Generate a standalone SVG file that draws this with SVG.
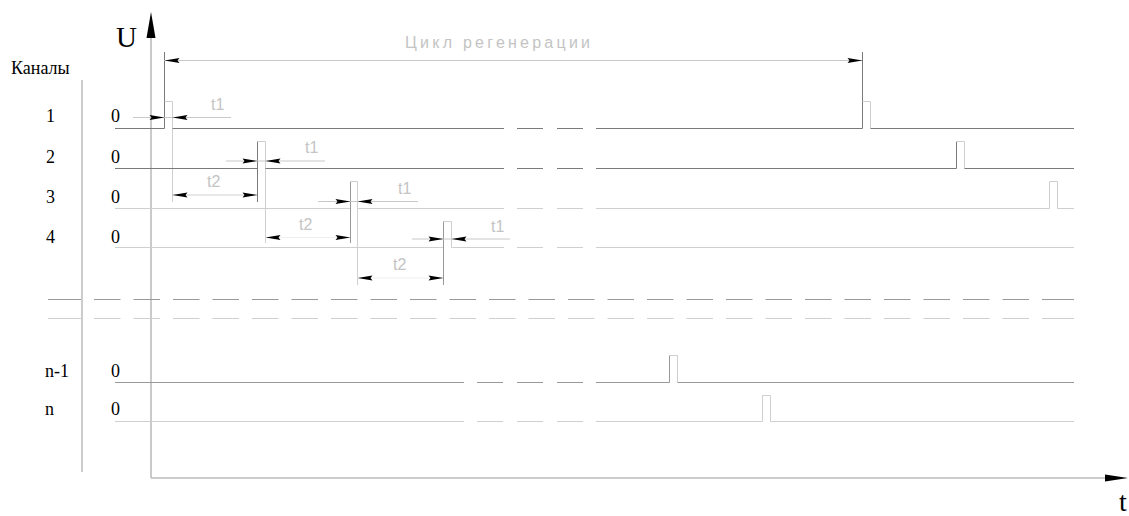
<svg xmlns="http://www.w3.org/2000/svg" width="1129" height="516" viewBox="0 0 1129 516">
<style>
.lbl{font-family:"Liberation Serif","Times New Roman",serif;fill:#000}
.dim{font-family:"Liberation Sans",Arial,sans-serif;fill:#c4c4c4;font-size:16px}
.dk{stroke:#7a7a7a;stroke-width:1;fill:none}
.md{stroke:#999;stroke-width:1;fill:none}
.lt{stroke:#cfcfcf;stroke-width:1;fill:none}
.dl{stroke:#c8c8c8;stroke-width:1;fill:none}
.ax{stroke:#bdbdbd;stroke-width:1.6;fill:none}
</style>
<defs>
<path id="ah" d="M0,0 L-15,-2.6 L-13,0 L-15,2.6 Z" fill="#000"/>
</defs>
<rect width="1129" height="516" fill="#fff"/>

<g id="axes">
<line class="ax" x1="151" y1="478" x2="151" y2="36"/>
<path d="M151,12 L146.5,38 L155.5,38 Z" fill="#000"/>
<line class="ax" x1="151" y1="478" x2="1106" y2="478"/>
<path d="M1128,478 L1105,474.5 L1105,481.5 Z" fill="#000"/>
<text class="lbl" x="116" y="47" font-size="29">U</text>
<text class="lbl" x="1119" y="511" font-size="28">t</text>
<line class="md" x1="82" y1="80" x2="82" y2="472"/>
</g>

<g id="labels">
<text class="lbl" x="11" y="74" font-size="18">Каналы</text>
<text class="lbl" x="46" y="122" font-size="18">1</text>
<text class="lbl" x="46" y="163" font-size="18">2</text>
<text class="lbl" x="46" y="203" font-size="18">3</text>
<text class="lbl" x="46" y="243" font-size="18">4</text>
<text class="lbl" x="45" y="377" font-size="18">n-1</text>
<text class="lbl" x="45" y="415" font-size="18">n</text>
<text class="lbl" x="111" y="122" font-size="18">0</text>
<text class="lbl" x="111" y="163" font-size="18">0</text>
<text class="lbl" x="111" y="203" font-size="18">0</text>
<text class="lbl" x="111" y="243" font-size="18">0</text>
<text class="lbl" x="111" y="377" font-size="18">0</text>
<text class="lbl" x="111" y="415" font-size="18">0</text>
</g>

<g id="ch1">
<path class="dk" d="M115,128.5 H164.5 V52"/>
<path class="lt" d="M164.5,101.5 H172.5 V202"/>
<path class="dk" d="M172.5,128.5 H504 M517,128.5 H543 M557,128.5 H583 M596,128.5 H862.5 V52"/>
<path class="lt" d="M862.5,101.5 H870.5 V128.5"/>
<path class="dk" d="M870.5,128.5 H1074"/>
</g>

<g id="ch2">
<path class="dk" d="M115,168.5 H257.5"/>
<path class="dk" d="M257.5,141.5 V202"/>
<path class="lt" d="M257.5,141.5 H265.5 V243"/>
<path class="dk" d="M265.5,168.5 H504 M517,168.5 H543 M557,168.5 H583 M596,168.5 H956.5 V141.5"/>
<path class="lt" d="M956.5,141.5 H964.5 V168.5"/>
<path class="dk" d="M964.5,168.5 H1074"/>
</g>

<g id="ch3">
<path class="lt" d="M115,208.5 H350.5"/>
<path class="md" d="M350.5,181.5 V243"/>
<path class="lt" d="M350.5,181.5 H357.5 V285"/>
<path class="lt" d="M357.5,208.5 H504 M517,208.5 H543 M557,208.5 H583 M596,208.5 H1049.5 V181.5 H1057.5 V208.5 H1074"/>
</g>

<g id="ch4">
<path class="lt" d="M115,247.5 H443.5"/>
<path class="md" d="M443.5,221.5 V285"/>
<path class="lt" d="M443.5,221.5 H451.5 V247.5 H504 M517,247.5 H543 M557,247.5 H583 M596,247.5 H1074"/>
</g>

<g id="separator">
<path class="md" d="M48,299.5 H81 M94,299.5 H120.5 M133.5,299.5 H160 M173,299.5 H199.5 M212.5,299.5 H239 M252,299.5 H278.5 M291.5,299.5 H318 M331,299.5 H357.5 M370.5,299.5 H397 M410,299.5 H436.5 M449.5,299.5 H476 M489,299.5 H515.5 M528.5,299.5 H555 M568,299.5 H594.5 M607.5,299.5 H634 M647,299.5 H673.5 M686.5,299.5 H713 M726,299.5 H752.5 M765.5,299.5 H792 M805,299.5 H831.5 M844.5,299.5 H871 M884,299.5 H910.5 M923.5,299.5 H950 M963,299.5 H989.5 M1002.5,299.5 H1029 M1042,299.5 H1074"/>
<path class="lt" d="M48,318.5 H81 M94,318.5 H120.5 M133.5,318.5 H160 M173,318.5 H199.5 M212.5,318.5 H239 M252,318.5 H278.5 M291.5,318.5 H318 M331,318.5 H357.5 M370.5,318.5 H397 M410,318.5 H436.5 M449.5,318.5 H476 M489,318.5 H515.5 M528.5,318.5 H555 M568,318.5 H594.5 M607.5,318.5 H634 M647,318.5 H673.5 M686.5,318.5 H713 M726,318.5 H752.5 M765.5,318.5 H792 M805,318.5 H831.5 M844.5,318.5 H871 M884,318.5 H910.5 M923.5,318.5 H950 M963,318.5 H989.5 M1002.5,318.5 H1029 M1042,318.5 H1074"/>
</g>

<g id="chn1">
<path class="md" d="M115,382.5 H464 M477,382.5 H503 M517,382.5 H543 M557,382.5 H583 M596,382.5 H669.5 V355.5"/>
<path class="lt" d="M669.5,355.5 H677.5 V382.5"/>
<path class="md" d="M677.5,382.5 H1074"/>
</g>

<g id="chn">
<path class="lt" d="M115,421.5 H464 M477,421.5 H503 M517,421.5 H543 M557,421.5 H583 M596,421.5 H762.5 V395.5 H770.5 V421.5 H1074"/>
</g>

<g id="connectors">
<line class="dl" x1="164" y1="60.5" x2="862" y2="60.5"/>
<use href="#ah" transform="translate(164.5,60.5) scale(-1,1)"/>
<use href="#ah" transform="translate(862.5,60.5)"/>
<text class="dim" x="405" y="48" font-size="17" textLength="185" lengthAdjust="spacing">Цикл регенерации</text>

<line class="dl" x1="133" y1="117.5" x2="231" y2="117.5"/>
<use href="#ah" transform="translate(164.5,117.5)"/>
<use href="#ah" transform="translate(172.5,117.5) scale(-1,1)"/>
<text class="dim" x="211" y="110">t1</text>

<line class="dl" x1="226" y1="161" x2="325" y2="161"/>
<use href="#ah" transform="translate(257.5,161)"/>
<use href="#ah" transform="translate(265.5,161) scale(-1,1)"/>
<text class="dim" x="305" y="153">t1</text>

<line class="lt" x1="172" y1="195" x2="257" y2="195" stroke="#eee"/>
<use href="#ah" transform="translate(172.5,195) scale(-1,1)"/>
<use href="#ah" transform="translate(257.5,195)"/>
<text class="dim" x="207" y="187">t2</text>

<line class="dl" x1="318" y1="201.5" x2="418" y2="201.5"/>
<use href="#ah" transform="translate(350.5,201.5)"/>
<use href="#ah" transform="translate(357.5,201.5) scale(-1,1)"/>
<text class="dim" x="398" y="194">t1</text>

<line x1="265" y1="237.5" x2="350" y2="237.5" stroke="#eee" stroke-width="1"/>
<use href="#ah" transform="translate(265.5,237.5) scale(-1,1)"/>
<use href="#ah" transform="translate(350.5,237.5)"/>
<text class="dim" x="299" y="230">t2</text>

<line class="dl" x1="412" y1="239" x2="510" y2="239"/>
<use href="#ah" transform="translate(443.5,239)"/>
<use href="#ah" transform="translate(451.5,239) scale(-1,1)"/>
<text class="dim" x="491" y="232">t1</text>

<line x1="357" y1="278" x2="443" y2="278" stroke="#eee" stroke-width="1"/>
<use href="#ah" transform="translate(357.5,278) scale(-1,1)"/>
<use href="#ah" transform="translate(443.5,278)"/>
<text class="dim" x="393" y="270">t2</text>
</g>
</svg>
